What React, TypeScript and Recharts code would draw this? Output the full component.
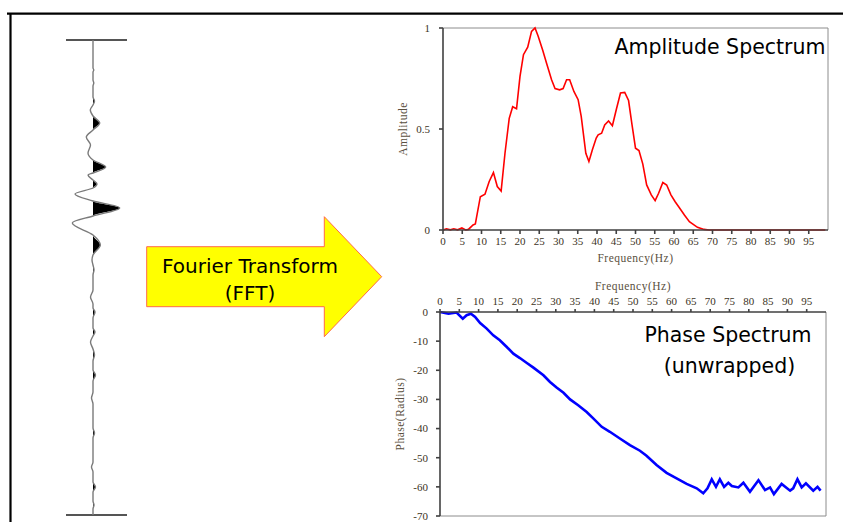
import React from 'react';
import {
  LineChart, Line, XAxis, YAxis, ReferenceLine, ComposedChart, Area, Label,
} from 'recharts';

// ---------- Amplitude spectrum ----------
const ampFreq = [0, 0.9, 1.9, 2.8, 3.8, 4.9, 5.9, 6.6, 7.8, 8.4, 9.7, 10.9, 12, 13.1, 14.1, 15.1, 16.1, 17.2, 18.1, 19.1, 20, 20.9, 22, 23, 23.9, 24.7, 25.9, 26.9, 28.2, 29.1, 30.3, 31.2, 32.1, 32.9, 34, 35.1, 35.9, 37.1, 37.9, 38.8, 39.8, 40.3, 41.2, 42, 43, 44, 45, 46.1, 47.2, 48.2, 49.1, 50, 50.9, 51.9, 52.9, 54.1, 55.1, 56, 57.1, 58.1, 59.2, 60.3, 61.4, 62.7, 64, 65, 66.1, 67.8, 69.1, 75, 80, 85, 90, 95, 99.3];
const ampValue = [0, 0.006, 0.001, 0.006, 0.001, 0.01, 0, 0.003, 0.025, 0.03, 0.165, 0.177, 0.24, 0.284, 0.215, 0.193, 0.38, 0.553, 0.61, 0.6, 0.76, 0.868, 0.905, 0.983, 1.0, 0.96, 0.89, 0.826, 0.744, 0.7, 0.694, 0.7, 0.744, 0.744, 0.686, 0.645, 0.562, 0.38, 0.339, 0.397, 0.455, 0.471, 0.479, 0.52, 0.54, 0.516, 0.595, 0.678, 0.681, 0.641, 0.52, 0.405, 0.393, 0.326, 0.223, 0.174, 0.145, 0.182, 0.235, 0.223, 0.174, 0.14, 0.11, 0.074, 0.041, 0.028, 0.013, 0.003, 0, 0, 0, 0, 0, 0, 0];

// ---------- Phase spectrum ----------
const phaseFreq = [0, 2.2, 4.3, 5.9, 6.9, 8, 9.1, 10.4, 12.1, 13.8, 15.5, 17.3, 19, 20.7, 22.5, 24.2, 26.8, 28.5, 30.2, 32, 33.7, 35.8, 38, 39.7, 41.9, 44, 46.6, 49.2, 51.8, 53.5, 56.1, 58.7, 61.3, 63.9, 66.5, 68.2, 69.3, 70.4, 71.5, 72.5, 73.6, 74.7, 75.6, 77.3, 78.6, 80.3, 82.5, 84.2, 85.5, 86.5, 88.5, 90.7, 91.5, 92.6, 93.7, 94.8, 96.7, 97.8, 98.6];
const phaseValue = [0, -0.6, -0.2, -2.3, -1.1, -0.6, -1.7, -3.8, -5.7, -8, -9.7, -12, -14.3, -15.8, -17.5, -19.1, -21.7, -24, -25.9, -27.7, -30, -32, -34.3, -36.5, -39.4, -41.1, -43.4, -45.7, -47.6, -49.3, -52.5, -55.2, -57.1, -59, -60.5, -62.2, -60.5, -57.4, -60, -57.4, -60, -58.6, -59.7, -60.2, -58.6, -61.7, -57.7, -61.1, -60.2, -62.5, -59, -61.3, -60.5, -57.4, -60.2, -58.8, -61.3, -60, -61.3];

const freqTicks = [0, 5, 10, 15, 20, 25, 30, 35, 40, 45, 50, 55, 60, 65, 70, 75, 80, 85, 90, 95];
const ampTicks = [0, 0.5, 1];
const phaseTicks = [0, -10, -20, -30, -40, -50, -60, -70];

// ---------- Seismic trace (time, amplitude) ----------
const traceTime = [0, 28, 30, 32, 40, 43, 46, 57, 61, 65, 70, 76, 83, 90, 97, 105, 113, 120, 127, 133, 135, 140, 144, 148, 154, 161, 168, 176, 183, 195, 205, 215, 220, 225, 230, 235, 250, 257, 264, 268, 272, 278, 288, 292, 296, 302, 309, 315, 321, 330, 335, 341, 352, 358, 364, 388, 393, 398, 422, 427, 432, 442, 447, 452, 461, 465, 469, 475];
const traceAmp = [0, 0, 0.8, 0, 0, 0.8, 0, 0, 1.5, 0, -2.7, 0, 6.7, 0, -6.7, -2.5, -5, 0, 12.7, 0, -5, 0, 4, 0, -18, 0, 26.7, 0, -20.7, 0, 7.3, 0, -1, 0, 1, 0, 0, -2.5, 0, 0, 2, 0, 0, 2, 0, -2.5, 0, 1.5, 0, 0, 2.5, 0, 0, -1.5, 0, 0, 1.5, 0, 0, -1.5, 0, 0, 2.5, 0, 0, 1, 0, 0];

const ampData = ampFreq.map((f, i) => ({ f, v: ampValue[i] }));
const phaseData = phaseFreq.map((f, i) => ({ f, v: phaseValue[i] }));
const traceData = traceTime.map((t, i) => ({ t, a: traceAmp[i], pos: Math.max(traceAmp[i], 0) }));

const serif = '"Liberation Serif", "Times New Roman", serif';
const sans = '"DejaVu Sans", Verdana, sans-serif';
const tickStyle = { fontFamily: serif, fontSize: 11, fill: '#3b3324' };
const labelStyle = { fontFamily: serif, fontSize: 11.5, fill: '#5a5040', letterSpacing: 0.5 };
const axisLine = { stroke: '#404040', strokeWidth: 1.6 };
const boxColor = '#8c8c8c';

export default function App() {
  return (
    <div style={{ position: 'absolute', left: 0, top: 0, width: 843, height: 522, background: '#fff', overflow: 'hidden' }}>
      {/* Seismic trace */}
      <div style={{ position: 'absolute', left: 60, top: 30 }}>
        <ComposedChart width={75} height={495} layout="vertical" data={traceData}
          margin={{ top: 10, bottom: 10, left: 6, right: 8 }}>
          <XAxis type="number" domain={[-27, 34]} hide />
          <YAxis type="number" dataKey="t" domain={[0, 475]} hide />
          <ReferenceLine y={0} stroke="#555" strokeWidth={2} />
          <ReferenceLine y={475} stroke="#555" strokeWidth={2} />
          <Area dataKey="pos" type="monotone" fill="#000" fillOpacity={1} stroke="none" baseValue={0} isAnimationActive={false} />
          <Line dataKey="a" type="monotone" stroke="#7a7a7a" strokeWidth={1.4} dot={false} isAnimationActive={false} />
        </ComposedChart>
      </div>

      {/* Amplitude spectrum */}
      <div style={{ position: 'absolute', left: 390, top: 10 }}>
        <LineChart width={450} height={260} data={ampData} margin={{ top: 18, right: 12, bottom: 10, left: 0 }}>
          <XAxis type="number" dataKey="f" domain={[0, 100]} ticks={freqTicks} interval={0}
            tick={tickStyle} axisLine={axisLine} tickLine={axisLine} tickSize={4} tickMargin={3} height={30}>
            <Label value="Frequency(Hz)" position="insideBottom" offset={-2} style={labelStyle} />
          </XAxis>
          <YAxis type="number" domain={[0, 1]} ticks={ampTicks} interval={0} width={53}
            tick={tickStyle} axisLine={axisLine} tickLine={axisLine} tickSize={4} tickMargin={9}>
            <Label value="Amplitude" angle={-90} position="insideLeft" offset={13} style={{ ...labelStyle, textAnchor: 'middle' }} />
          </YAxis>
          <ReferenceLine x={100} stroke={boxColor} strokeWidth={1} />
          <ReferenceLine y={1} stroke={boxColor} strokeWidth={1} />
          <Line dataKey="v" type="linear" stroke="#ff0000" strokeWidth={1.6} dot={false} isAnimationActive={false} />
        </LineChart>
      </div>

      {/* Phase spectrum */}
      <div style={{ position: 'absolute', left: 390, top: 280 }}>
        <LineChart width={450} height={242} data={phaseData} margin={{ top: 2, right: 14, bottom: 6, left: 0 }}>
          <XAxis type="number" dataKey="f" orientation="top" domain={[0, 100]} ticks={freqTicks} interval={0}
            tick={tickStyle} axisLine={axisLine} tickLine={axisLine} tickSize={3} tickMargin={4} height={30}>
            <Label value="Frequency(Hz)" position="insideTop" offset={0} style={labelStyle} />
          </XAxis>
          <YAxis type="number" domain={[-70, 0]} ticks={phaseTicks} interval={0} width={50}
            tick={tickStyle} axisLine={axisLine} tickLine={axisLine} tickSize={4} tickMargin={8}>
            <Label value="Phase(Radius)" angle={-90} position="insideLeft" offset={10} style={{ ...labelStyle, textAnchor: 'middle' }} />
          </YAxis>
          <ReferenceLine x={100} stroke={boxColor} strokeWidth={1} />
          <ReferenceLine y={-70} stroke={boxColor} strokeWidth={1} />
          <Line dataKey="v" type="linear" stroke="#0000ff" strokeWidth={2.6} dot={false} isAnimationActive={false} />
        </LineChart>
      </div>

      {/* Frame, arrow, titles */}
      <svg width={843} height={522} style={{ position: 'absolute', left: 0, top: 0, pointerEvents: 'none' }}>
        <line x1={7} y1={13.7} x2={843} y2={13.7} stroke="#000" strokeWidth={2.2} />
        <line x1={10.5} y1={13} x2={10.5} y2={522} stroke="#000" strokeWidth={2.2} />
        <polygon
          points="146.7,246.7 324.3,246.7 324.3,216.7 381.7,276.7 324.3,336.7 324.3,306.7 146.7,306.7"
          fill="#ffff00" stroke="#ff6a4a" strokeWidth={1} />
        <text x={250} y={273.3} textAnchor="middle" fontFamily={sans} fontSize={20} fill="#000">Fourier Transform</text>
        <text x={250} y={300} textAnchor="middle" fontFamily={sans} fontSize={20} fill="#000">(FFT)</text>
        <text x={720} y={54} textAnchor="middle" fontFamily={sans} fontSize={20.5} fill="#000">Amplitude Spectrum</text>
        <text x={728} y={342} textAnchor="middle" fontFamily={sans} fontSize={20.5} fill="#000">Phase Spectrum</text>
        <text x={729.5} y={373} textAnchor="middle" fontFamily={sans} fontSize={20.5} fill="#000">(unwrapped)</text>
      </svg>
    </div>
  );
}
